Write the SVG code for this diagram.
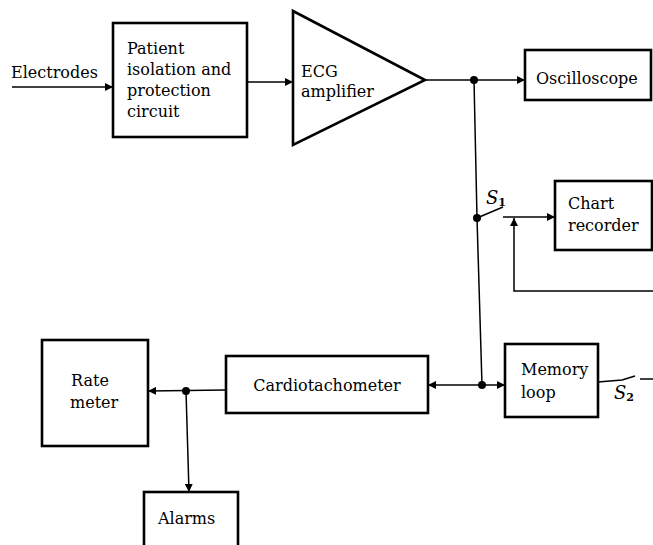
<svg xmlns="http://www.w3.org/2000/svg" width="653" height="545" viewBox="0 0 653 545">
  <style>
    .box { fill: #fff; stroke: #000; stroke-width: 2.6; }
    .lbl { font-family: "DejaVu Serif", "Liberation Serif", serif; font-size: 16px; fill: #000; }
    .sw { font-family: "DejaVu Serif", "Liberation Serif", serif; font-size: 18px; font-style: italic; fill: #000; }
    .sub { font-size: 11px; font-style: normal; font-weight: bold; }
    .wire { fill: none; stroke: #000; stroke-width: 1.5; }
    .dot { fill: #000; }
  </style>
  <defs>
    <marker id="arr" viewBox="0 0 10 10" refX="10" refY="5" markerWidth="8" markerHeight="8" markerUnits="userSpaceOnUse" orient="auto">
      <path d="M0,0 L10,5 L0,10 z" fill="#000"/>
    </marker>
  </defs>

  <g id="connectors">
    <!-- electrodes input -->
    <line class="wire" x1="12" y1="87" x2="113" y2="87" marker-end="url(#arr)"/>
    <text class="lbl" x="11" y="78">Electrodes</text>
    <!-- isolation to amplifier -->
    <line class="wire" x1="247" y1="82" x2="293" y2="82" marker-end="url(#arr)"/>
    <!-- amplifier output to oscilloscope -->
    <line class="wire" x1="425" y1="80" x2="525" y2="80" marker-end="url(#arr)"/>
    <circle class="dot" cx="474" cy="80" r="4"/>
    <!-- main vertical bus -->
    <polyline class="wire" points="474,80 477,218 482,385"/>
    <!-- switch S1 to chart recorder -->
    <circle class="dot" cx="477" cy="218" r="4"/>
    <line class="wire" x1="477" y1="218" x2="503" y2="207"/>
    <text class="sw" x="486" y="204">S<tspan class="sub" dy="2">1</tspan></text>
    <line class="wire" x1="503" y1="217" x2="555" y2="217" marker-end="url(#arr)"/>
    <!-- playback path into chart recorder line -->
    <polyline class="wire" points="653,291 514,291 514,218" marker-end="url(#arr)"/>
    <!-- bus to cardiotachometer and memory loop -->
    <circle class="dot" cx="482" cy="385" r="4"/>
    <line class="wire" x1="482" y1="385" x2="428" y2="385" marker-end="url(#arr)"/>
    <line class="wire" x1="482" y1="385" x2="505" y2="385" marker-end="url(#arr)"/>
    <!-- memory loop output via switch S2 -->
    <polyline class="wire" points="598,382 622,380 635,376"/>
    <line class="wire" x1="640" y1="379" x2="653" y2="379"/>
    <text class="sw" x="614" y="399">S<tspan class="sub" dy="2">2</tspan></text>
    <!-- cardiotachometer to rate meter and alarms -->
    <line class="wire" x1="226" y1="390" x2="148" y2="391" marker-end="url(#arr)"/>
    <circle class="dot" cx="186" cy="391" r="4"/>
    <line class="wire" x1="186" y1="391" x2="189" y2="492" marker-end="url(#arr)"/>
  </g>

  <g id="isolation">
    <rect class="box" x="113" y="23" width="134" height="114"/>
    <text class="lbl" x="127" y="54">Patient</text>
    <text class="lbl" x="127" y="75">isolation and</text>
    <text class="lbl" x="127" y="96">protection</text>
    <text class="lbl" x="127" y="117">circuit</text>
  </g>

  <g id="amplifier">
    <polygon class="box" points="293,11 425,80 293,145"/>
    <text class="lbl" x="301" y="77">ECG</text>
    <text class="lbl" x="301" y="97">amplifier</text>
  </g>

  <g id="oscilloscope">
    <rect class="box" x="525" y="50" width="126" height="50"/>
    <text class="lbl" x="536" y="84">Oscilloscope</text>
  </g>

  <g id="chart-recorder">
    <rect class="box" x="555" y="181" width="97" height="69"/>
    <text class="lbl" x="568" y="209">Chart</text>
    <text class="lbl" x="568" y="231">recorder</text>
  </g>

  <g id="memory-loop">
    <rect class="box" x="505" y="344" width="93" height="73"/>
    <text class="lbl" x="521" y="375">Memory</text>
    <text class="lbl" x="521" y="398">loop</text>
  </g>

  <g id="cardiotachometer">
    <rect class="box" x="226" y="356" width="202" height="57"/>
    <text class="lbl" x="327" y="391" text-anchor="middle">Cardiotachometer</text>
  </g>

  <g id="rate-meter">
    <rect class="box" x="42" y="340" width="106" height="106"/>
    <text class="lbl" x="71" y="386">Rate</text>
    <text class="lbl" x="70" y="408">meter</text>
  </g>

  <g id="alarms">
    <rect class="box" x="144" y="492" width="94" height="60"/>
    <text class="lbl" x="158" y="524">Alarms</text>
  </g>
</svg>
